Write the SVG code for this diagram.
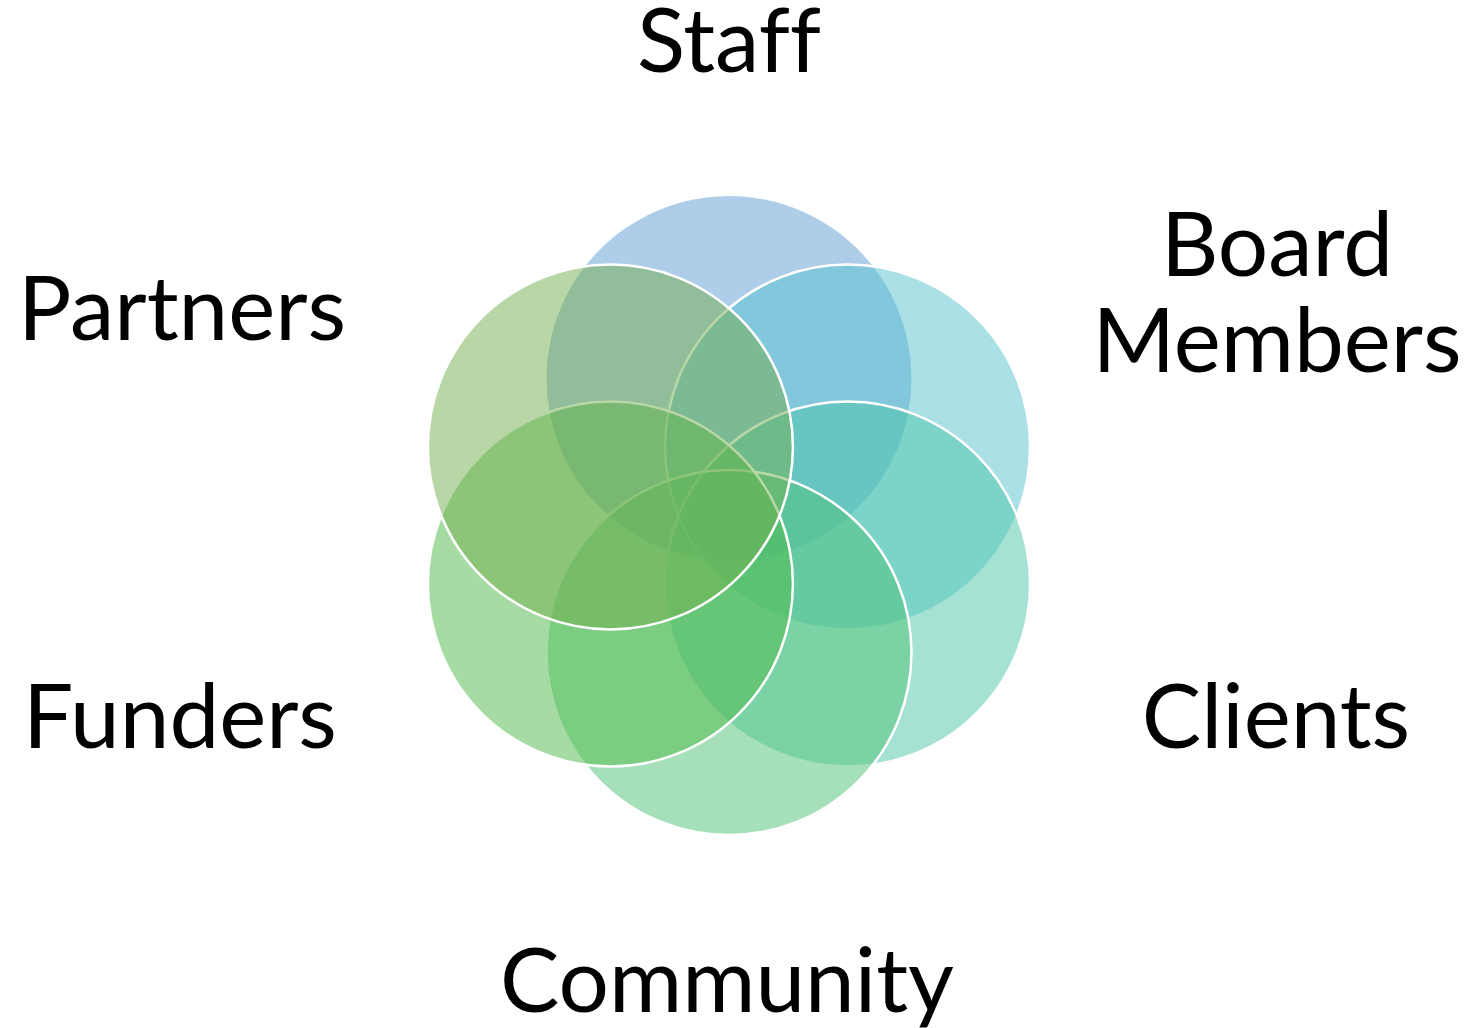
<svg xmlns="http://www.w3.org/2000/svg" width="1468" height="1028" viewBox="0 0 1468 1028">
<style>
  .c { fill-opacity: 0.5; stroke: #ffffff; stroke-width: 2.5; }
  .lbl { font-family: Lato, "Liberation Sans", sans-serif; font-size: 89px; fill: #000000; text-anchor: middle; font-variant-ligatures: none; font-feature-settings: "liga" 0; }
</style>
<rect width="1468" height="1028" fill="#ffffff"/>
<g id="staff"><circle cx="729" cy="378.5" r="182.5" fill="#5d9bd3" fill-opacity="0.5"/></g>
<g id="board-members"><circle class="c" cx="847.6" cy="447" r="182.5" fill="#55c1cd"/></g>
<g id="clients"><circle class="c" cx="847.6" cy="584" r="182.5" fill="#4dc5a9"/></g>
<g id="community"><circle class="c" cx="729" cy="652.5" r="182.5" fill="#4dc175"/></g>
<g id="funders"><circle class="c" cx="610.4" cy="584" r="182.5" fill="#4db947"/></g>
<g id="partners"><circle class="c" cx="610.4" cy="447" r="182.5" fill="#73ad4d"/></g>
<g id="labels">
  <text class="lbl" x="729" y="72">Staff</text>
  <text class="lbl" x="1277" y="276"><tspan x="1277" y="276">Board</tspan><tspan x="1277" y="372">Members</tspan></text>
  <text class="lbl" x="182" y="340">Partners</text>
  <text class="lbl" x="180" y="748">Funders</text>
  <text class="lbl" x="1276" y="748">Clients</text>
  <text class="lbl" x="727" y="1012">Community</text>
</g>
</svg>
